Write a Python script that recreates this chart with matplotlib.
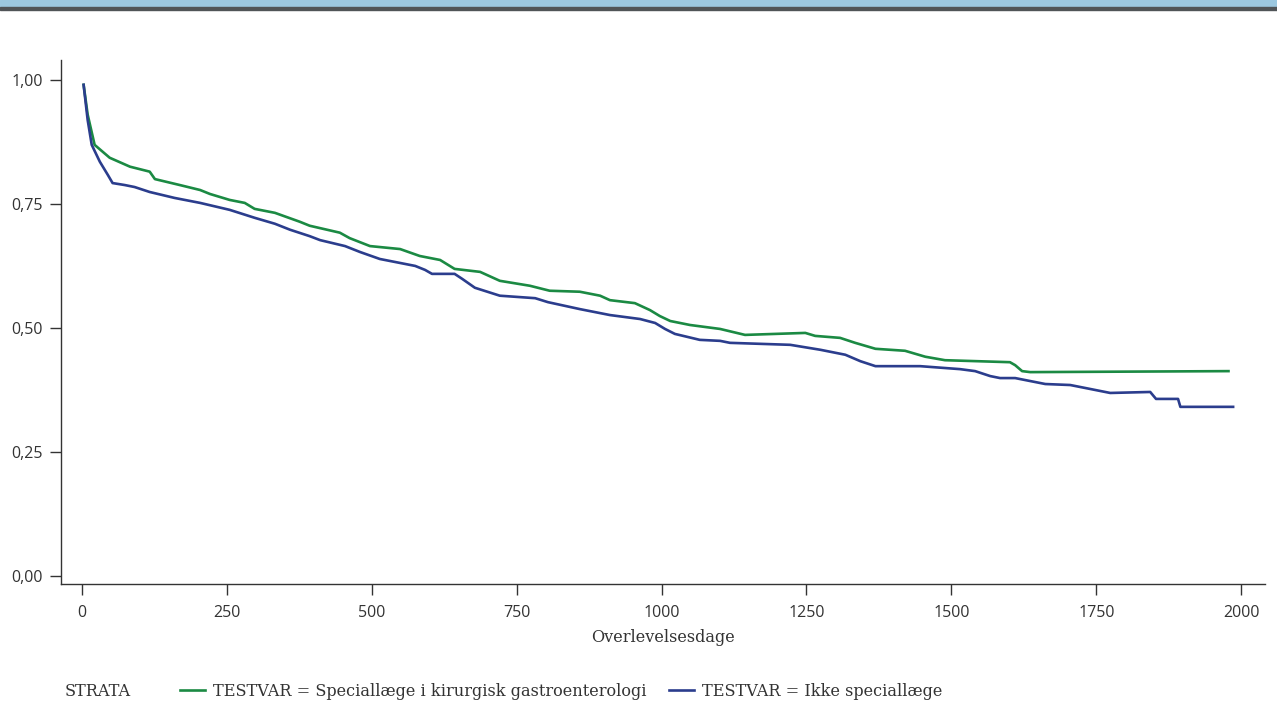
import matplotlib
matplotlib.use("Agg")
import matplotlib.pyplot as plt
from matplotlib.lines import Line2D
from matplotlib.patches import Rectangle
from matplotlib.ticker import FuncFormatter

# Kaplan-Meier curves (days, survival)
spec_days = [3, 10, 22, 48, 83, 117, 126, 169, 204, 221, 255, 281, 298, 333, 376, 393,
             445, 462, 497, 549, 583, 618, 643, 687, 721, 773, 807, 859, 894, 911, 954,
             980, 997, 1015, 1049, 1101, 1144, 1170, 1248, 1265, 1308, 1334, 1369, 1420,
             1455, 1489, 1601, 1610, 1622, 1636, 1978]
spec_surv = [0.99, 0.93, 0.869, 0.843, 0.825, 0.815, 0.80, 0.788, 0.778, 0.77, 0.758,
             0.752, 0.74, 0.732, 0.714, 0.706, 0.692, 0.681, 0.665, 0.659, 0.645, 0.637,
             0.619, 0.613, 0.595, 0.585, 0.575, 0.573, 0.565, 0.556, 0.55, 0.536, 0.524,
             0.514, 0.506, 0.498, 0.486, 0.487, 0.49, 0.484, 0.48, 0.47, 0.458, 0.454,
             0.442, 0.435, 0.431, 0.425, 0.413, 0.411, 0.413]

ikke_days = [3, 10, 17, 31, 45, 53, 74, 91, 117, 160, 204, 255, 298, 333, 359, 393, 411,
             454, 480, 514, 575, 592, 604, 643, 656, 678, 721, 782, 804, 859, 911, 963,
             989, 1006, 1023, 1066, 1101, 1118, 1222, 1274, 1317, 1343, 1369, 1446, 1515,
             1541, 1567, 1584, 1610, 1662, 1705, 1731, 1774, 1843, 1853, 1891, 1895, 1986]
ikke_surv = [0.99, 0.919, 0.869, 0.835, 0.808, 0.792, 0.788, 0.784, 0.774, 0.762, 0.752,
             0.738, 0.722, 0.71, 0.698, 0.685, 0.677, 0.665, 0.653, 0.639, 0.625, 0.617,
             0.609, 0.609, 0.599, 0.581, 0.565, 0.56, 0.552, 0.538, 0.526, 0.518, 0.51,
             0.498, 0.488, 0.476, 0.474, 0.47, 0.466, 0.456, 0.446, 0.433, 0.423, 0.423,
             0.417, 0.413, 0.403, 0.399, 0.399, 0.387, 0.385, 0.379, 0.369, 0.371, 0.357,
             0.357, 0.341, 0.341]

labels = ["TESTVAR = Speciallæge i kirurgisk gastroenterologi", "TESTVAR = Ikke speciallæge"]
colors = ["#1b8a43", "#2b3d8d"]

sans = ["Open Sans", "DejaVu Sans"]
serif = ["DejaVu Serif"]

fig = plt.figure(figsize=(12.77, 7.26), dpi=100)
# top banner
fig.patches.append(Rectangle((0, 1 - 8 / 726), 1, 8 / 726, transform=fig.transFigure,
                             color="#9cc8e0", zorder=0))
fig.patches.append(Rectangle((0, 1 - 10 / 726), 1, 2.5 / 726, transform=fig.transFigure,
                             color="#505457", zorder=0))

ax = fig.add_axes([61 / 1277, 1 - 584 / 726, (1265 - 61) / 1277, (584 - 60) / 726])
ax.plot(spec_days, spec_surv, color=colors[0], lw=1.9)
ax.plot(ikke_days, ikke_surv, color=colors[1], lw=1.9)

ax.set_xlim(-36, 2041)
ax.set_ylim(-0.016, 1.04)
ax.set_xticks([0, 250, 500, 750, 1000, 1250, 1500, 1750, 2000])
ax.set_yticks([0, 0.25, 0.5, 0.75, 1.0])
ax.yaxis.set_major_formatter(FuncFormatter(lambda v, p: f"{v:.2f}".replace(".", ",")))
for s in ["top", "right"]:
    ax.spines[s].set_visible(False)
for s in ["left", "bottom"]:
    ax.spines[s].set_color("#333333")
    ax.spines[s].set_linewidth(1)
ax.tick_params(length=8, width=1, color="#333333", labelsize=11.5, labelcolor="#333333")
ax.tick_params(axis="x", pad=7)
ax.tick_params(axis="y", pad=5)
for t in ax.get_xticklabels() + ax.get_yticklabels():
    t.set_family(sans)
ax.set_xlabel("Overlevelsesdage", family=serif, fontsize=11.6, color="#333333", labelpad=6)

fig.text(65 / 1277, 1 - 691 / 726, "STRATA", family=serif, fontsize=11.6, color="#333333",
         va="center")
handles = [Line2D([], [], color=c, lw=1.9) for c in colors]
fig.legend(handles, labels, loc="center left", bbox_to_anchor=(165 / 1277, 1 - 691 / 726),
           ncol=2, frameon=False, prop={"family": serif, "size": 11.6}, handlelength=1.6,
           handletextpad=0.45, columnspacing=1.4, labelcolor="#333333")

fig.savefig("out.png", dpi=100)
